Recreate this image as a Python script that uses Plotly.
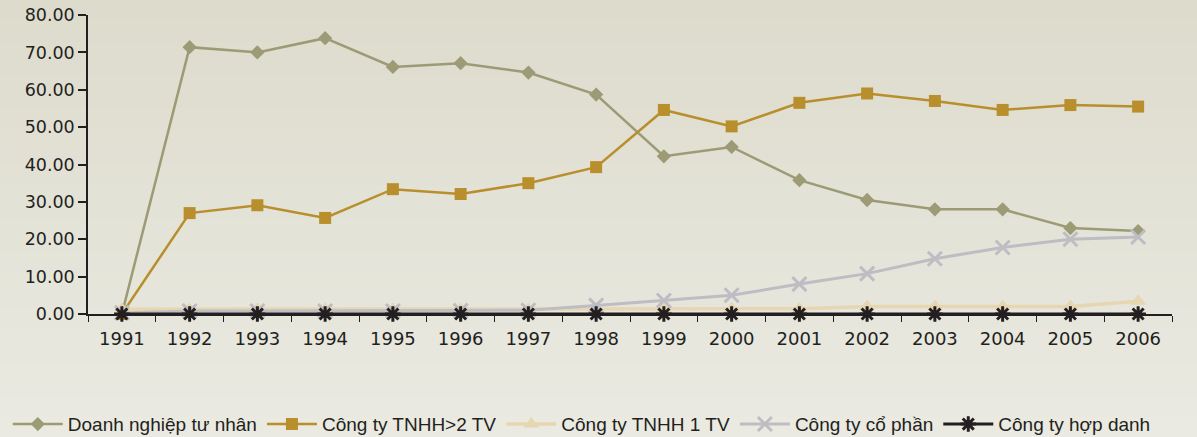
import plotly.graph_objects as go

years = [str(y) for y in range(1991, 2007)]
dn_tu_nhan = [0, 71.4, 70.0, 73.8, 66.1, 67.1, 64.6, 58.7, 42.2, 44.7, 35.8, 30.5, 28.0, 28.0, 23.0, 22.2]
tnhh_2tv = [0, 27.0, 29.1, 25.7, 33.4, 32.1, 35.0, 39.3, 54.6, 50.2, 56.5, 59.0, 57.0, 54.6, 55.9, 55.5]
tnhh_1tv = [1.3, 1.3, 1.3, 1.3, 1.3, 1.3, 1.3, 1.4, 1.4, 1.4, 1.4, 2.0, 2.0, 2.0, 2.0, 3.4]
co_phan = [0.3, 0.8, 0.8, 0.8, 0.8, 0.9, 1.0, 2.3, 3.6, 5.0, 8.0, 10.8, 14.8, 17.8, 20.0, 20.6]
hop_danh = [0] * 16

series = [
    ("Doanh nghiệp tư nhân", dn_tu_nhan, "#9C9B76", "diamond", 11, 2.5),
    ("Công ty TNHH>2 TV", tnhh_2tv, "#B88F2C", "square", 12, 2.5),
    ("Công ty TNHH 1 TV", tnhh_1tv, "#E6D6B2", "triangle-up", 14, 3.5),
    ("Công ty cổ phần", co_phan, "#BDBDC3", "x-thin-open", 14, 3),
    ("Công ty hợp danh", hop_danh, "#231F20", "asterisk-open", 13, 3),
]

fig = go.Figure()
for name, vals, color, sym, size, lw in series:
    if sym in ("x-thin-open", "asterisk-open"):
        marker = dict(symbol=sym, size=size, color=color, line=dict(color=color, width=3))
    else:
        marker = dict(symbol=sym, size=size, color=color)
    fig.add_trace(go.Scatter(
        x=years, y=vals, name=name, mode="lines+markers",
        line=dict(color=color, width=lw), marker=marker, cliponaxis=False,
    ))

# background gradient
top = (221, 219, 204)
bot = (234, 234, 226)
n = 40
y0p, y1p = -0.42, 1.06
shapes = []
for i in range(n):
    t = i / (n - 1)
    c = tuple(round(bot[k] + (top[k] - bot[k]) * t) for k in range(3))
    a = y0p + (y1p - y0p) * i / n
    b = y0p + (y1p - y0p) * (i + 1) / n
    shapes.append(dict(type="rect", xref="paper", yref="paper", x0=-0.1, x1=1.1,
                       y0=a, y1=b + 0.002, fillcolor="rgb(%d,%d,%d)" % c,
                       line=dict(width=0), layer="below"))

fig.update_layout(
    width=1197, height=437,
    margin=dict(l=88, r=25, t=15, b=123, autoexpand=False),
    paper_bgcolor="rgb(228,228,216)",
    plot_bgcolor="rgba(0,0,0,0)",
    shapes=shapes,
    font=dict(family="Liberation Sans, Arial, sans-serif", size=18, color="#231F20"),
    showlegend=True,
    legend=dict(orientation="h", x=-0.074, xanchor="left", y=-0.305, yanchor="top",
                font=dict(size=19, color="#231F20"), bgcolor="rgba(0,0,0,0)",
                traceorder="normal", itemwidth=50),
)
fig.update_xaxes(
    type="category", range=[-0.5, 15.5], showgrid=False, zeroline=False,
    showline=True, linecolor="#231F20", linewidth=1.5,
    ticks="outside", tickson="boundaries", ticklen=6, tickcolor="#231F20", tickwidth=1,
    tickfont=dict(family="DejaVu Sans", size=18, color="#231F20"), ticklabelstandoff=8,
)
fig.update_yaxes(
    range=[0, 80], dtick=10, tickformat=".2f", showgrid=False, zeroline=False,
    showline=True, linecolor="#231F20", linewidth=1.5,
    ticks="outside", ticklen=8, tickcolor="#231F20", tickwidth=1.5,
    tickfont=dict(family="DejaVu Sans", size=17.5, color="#231F20"),
)
fig.write_html("out.html", config={"displayModeBar": False},
               post_script="document.body.style.margin='0';document.body.style.overflow='hidden';")
